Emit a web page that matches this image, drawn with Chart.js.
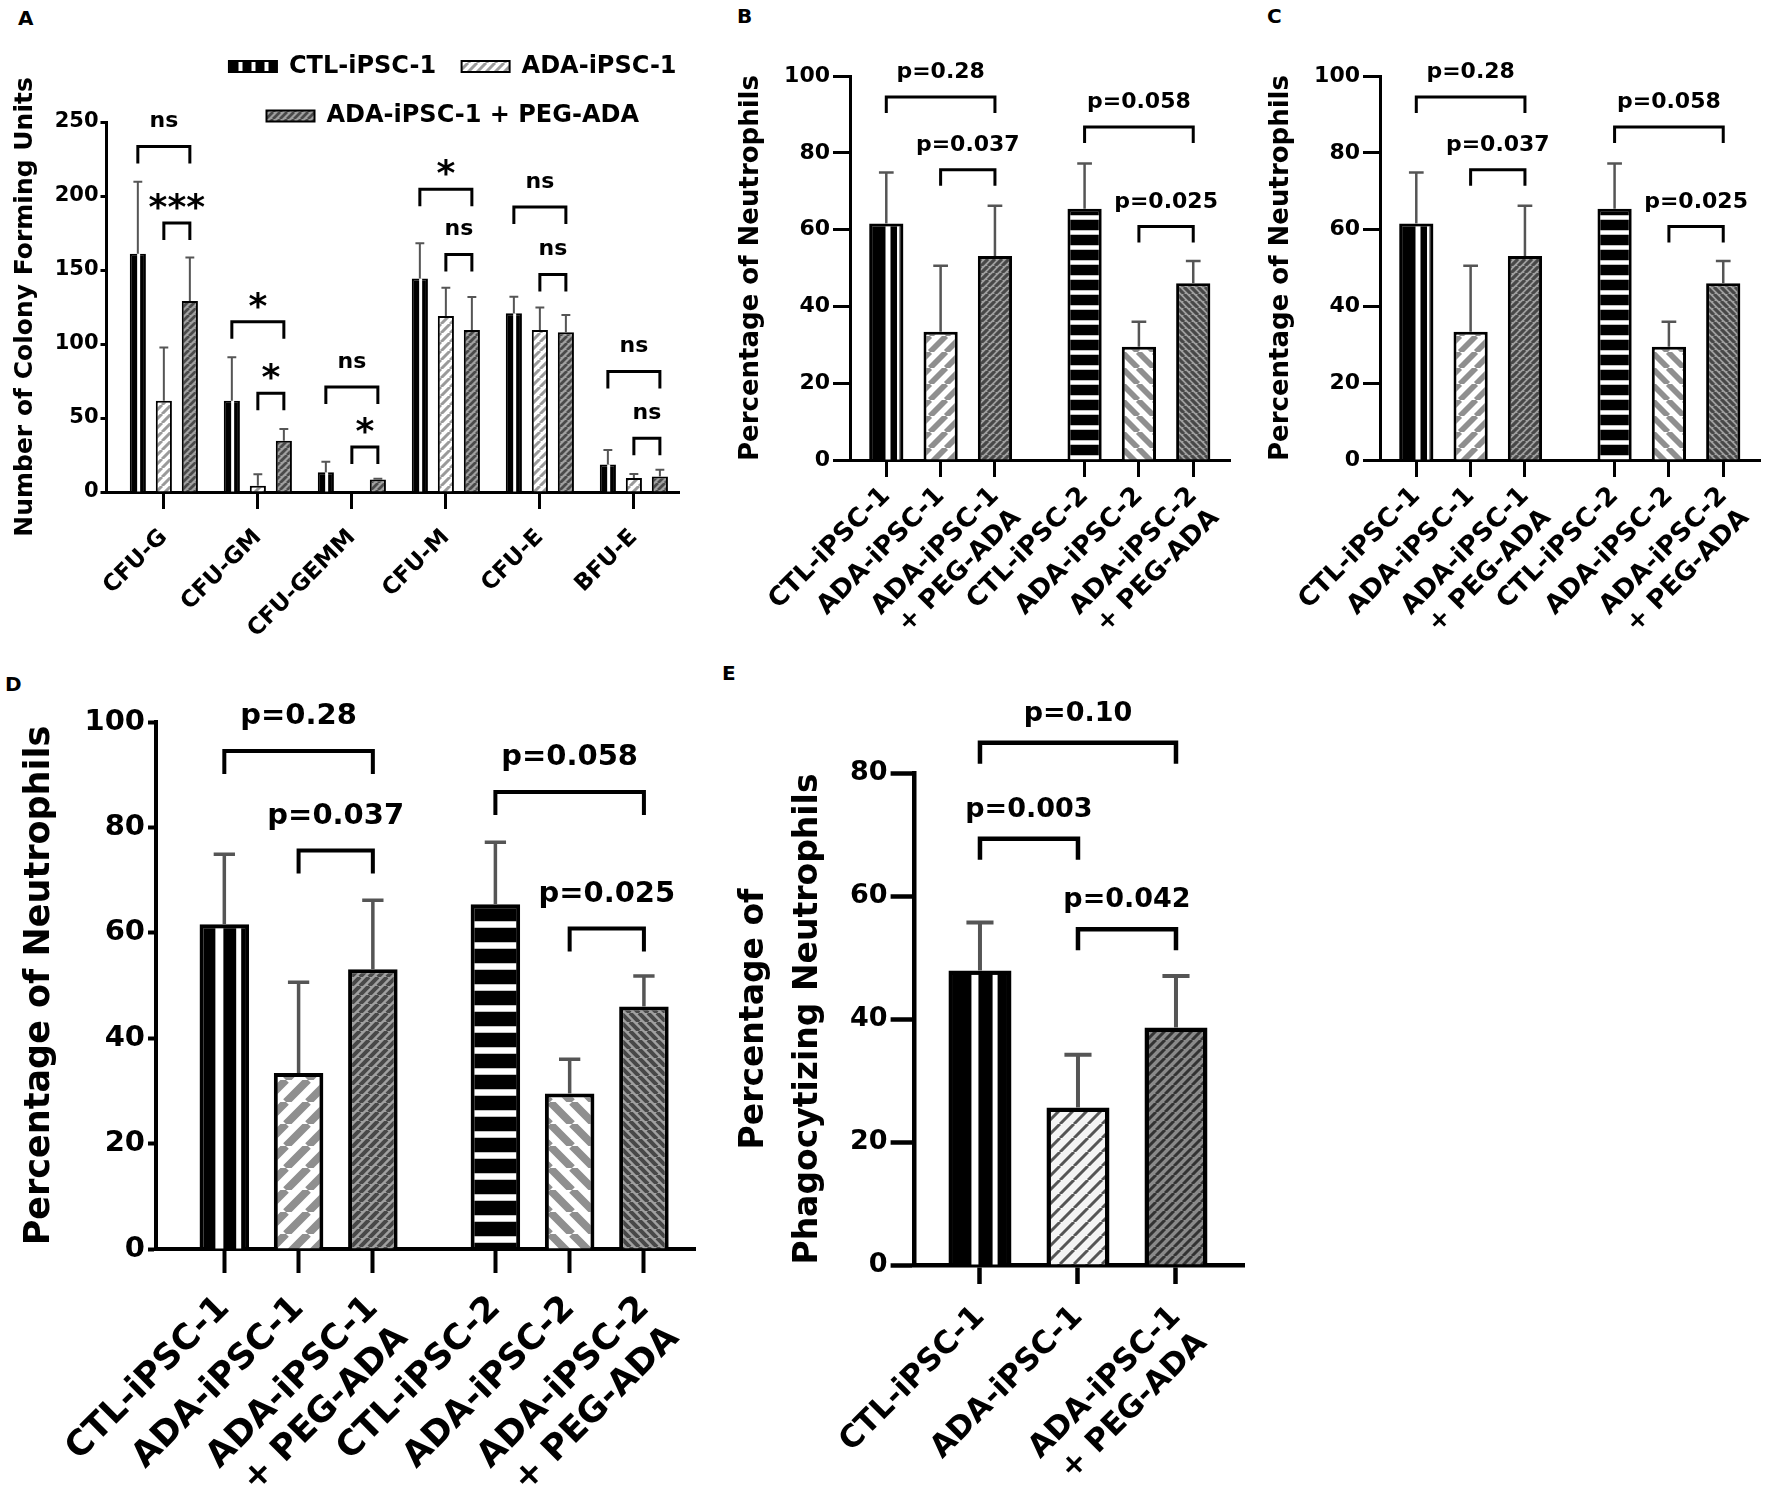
<!DOCTYPE html>
<html>
<head>
<meta charset="utf-8">
<script src="https://cdn.jsdelivr.net/npm/chart.js@4.4.1/dist/chart.umd.min.js"></script>
<style>
  body { margin: 0; width: 1772px; height: 1496px; background: #fff; position: relative; overflow: hidden; }
  canvas { position: absolute; }
  .tag { position: absolute; font: bold 20px 'DejaVu Sans'; line-height: 20px; color: #000; }
</style>
</head>
<body>
<div class="tag" style="left:18px;top:8px">A</div>
<div class="tag" style="left:737px;top:6px">B</div>
<div class="tag" style="left:1267px;top:6px">C</div>
<div class="tag" style="left:5px;top:674px">D</div>
<div class="tag" style="left:722px;top:663px">E</div>

<canvas id="chartA" width="720" height="660" style="left:0;top:0"></canvas>
<canvas id="chartB" width="520" height="660" style="left:722px;top:0"></canvas>
<canvas id="chartC" width="520" height="660" style="left:1252px;top:0"></canvas>
<canvas id="chartD" width="720" height="834" style="left:0;top:662px"></canvas>
<canvas id="chartE" width="540" height="834" style="left:724px;top:662px"></canvas>

<script>
// panel A: colony forming units
const cfuCategories = ['CFU-G', 'CFU-GM', 'CFU-GEMM', 'CFU-M', 'CFU-E', 'BFU-E'];
const cfuSeries = ['CTL-iPSC-1', 'ADA-iPSC-1', 'ADA-iPSC-1 + PEG-ADA'];
const cfuSlots = [0, 1, 2, 3, 4, 5];
const cfuCtl = [161, 61.6, 13.4, 144.3, 120.7, 18.5];
const cfuCtlErr = [48.7, 29.4, 7.1, 23.7, 11.3, 9.9];
const cfuAda = [61.6, 4.3, 0, 119, 109.4, 9.4];
const cfuAdaErr = [36.1, 7.7, 0, 19, 15.3, 2.8];
const cfuPeg = [129, 34.7, 8.5, 109.4, 108, 10.5];
const cfuPegErr = [29.5, 7.9, 0.5, 22.4, 11.6, 4.5];
const cfuTicks = [0, 50, 100, 150, 200, 250];
const cfuOuterY = [233.5, 115, 71, 204.5, 192.6, 81.5];
const cfuOuterText = ['ns', '*', 'ns', '*', 'ns', 'ns'];
const cfuInnerY = [181.8, 66.8, 30.4, 160.5, 147, 36.4];
const cfuInnerText = ['***', '*', '*', 'ns', 'ns', 'ns'];

// panels B, C, D: neutrophils
const neutLabels = ['CTL-iPSC-1', 'ADA-iPSC-1', ['ADA-iPSC-1', '+ PEG-ADA'], 'CTL-iPSC-2', 'ADA-iPSC-2', ['ADA-iPSC-2', '+ PEG-ADA']];
const neutSlots = [0, 1, 2, 3.65, 4.65, 5.65];
const neutValues = [61.6, 33.4, 53.1, 65.4, 29.5, 46.0];
const neutErrors = [13.3, 17.2, 13.1, 11.8, 6.5, 5.8];
const neutTicks = [0, 20, 40, 60, 80, 100];
const neutPairs = [[0, 2], [1, 2], [3, 5], [4, 5]];
const neutPHeights = [94.5, 75.6, 86.7, 60.8];
const neutPTexts = ['p=0.28', 'p=0.037', 'p=0.058', 'p=0.025'];

// panel E: phagocytizing neutrophils
const phagoLabels = ['CTL-iPSC-1', 'ADA-iPSC-1', ['ADA-iPSC-1', '+ PEG-ADA']];
const phagoSlots = [0, 1, 2];
const phagoValues = [47.9, 25.6, 38.6];
const phagoErrors = [7.8, 8.6, 8.4];
const phagoTicks = [0, 20, 40, 60, 80];
const phagoPairs = [[0, 2], [0, 1], [1, 2]];
const phagoPHeights = [84.9, 69.3, 54.6];
const phagoPTexts = ['p=0.10', 'p=0.003', 'p=0.042'];

const FONT = 'DejaVu Sans';
Chart.defaults.font.family = FONT;
Chart.defaults.color = '#000';
Chart.defaults.animation = false;

function hatch(bg, fg, size, lw, dir) {
  const c = document.createElement('canvas');
  c.width = c.height = size;
  const g = c.getContext('2d');
  g.fillStyle = bg;
  g.fillRect(0, 0, size, size);
  g.strokeStyle = fg;
  g.lineWidth = lw;
  g.beginPath();
  for (let k = -1; k <= 1; k++) {
    const o = k * size;
    if (dir === '/') { g.moveTo(o, size); g.lineTo(o + size, 0); }
    else { g.moveTo(o, 0); g.lineTo(o + size, size); }
  }
  g.stroke();
  return g.createPattern(c, 'repeat');
}

function bands(bg, fg, size, lw, vertical) {
  const c = document.createElement('canvas');
  c.width = c.height = size;
  const g = c.getContext('2d');
  g.fillStyle = bg;
  g.fillRect(0, 0, size, size);
  g.fillStyle = fg;
  if (vertical) g.fillRect((size - lw) / 2, 0, lw, size);
  else g.fillRect(0, (size - lw) / 2, size, lw);
  return g.createPattern(c, 'repeat');
}

const pts = (slots, vals) => slots.map((x, i) => ({x: x, y: vals[i]}));

// error bars, white stripes in the CTL-iPSC-1 bars, significance brackets
const extras = {
  id: 'extras',
  afterLayout(chart, args, o) {
    if (o.legendShift && chart.legend) {
      const l = chart.legend;
      l.left += o.legendShift[0]; l.right += o.legendShift[0];
      l.top += o.legendShift[1]; l.bottom += o.legendShift[1];
    }
  },
  afterDatasetsDraw(chart, args, o) {
    const ctx = chart.ctx;
    const ys = chart.scales.y;
    ctx.save();
    chart.data.datasets.forEach((ds, di) => {
      chart.getDatasetMeta(di).data.forEach((bar, i) => {
        const p = bar.getProps(['x', 'y', 'base', 'width'], true);
        const bw = ds.borderWidth || 0;
        const st = ds.vStripes;
        if (st && (!st.bars || st.bars.includes(i))) {
          ctx.fillStyle = '#fff';
          st.at.forEach((f, k) => {
            const sx = p.x - p.width / 2 + f * p.width - st.w[k] / 2;
            ctx.fillRect(sx, p.y + bw, st.w[k], p.base - p.y - bw);
          });
        }
        const e = ds.errors ? ds.errors[i] : 0;
        if (e > 0) {
          const top = ys.getPixelForValue(ds.data[i].y + e);
          const cap = p.width * o.capFrac / 2;
          ctx.strokeStyle = o.errColor;
          ctx.lineWidth = o.errWidth;
          ctx.beginPath();
          ctx.moveTo(p.x, p.y);
          ctx.lineTo(p.x, top);
          ctx.moveTo(p.x - cap, top);
          ctx.lineTo(p.x + cap, top);
          ctx.stroke();
        }
      });
    });
    (o.brackets || []).forEach(b => {
      const xa = chart.getDatasetMeta(b.a[0]).data[b.a[1]].x;
      const xb = chart.getDatasetMeta(b.b[0]).data[b.b[1]].x;
      const yb = ys.getPixelForValue(b.y);
      ctx.strokeStyle = '#000';
      ctx.lineWidth = o.brLine;
      ctx.beginPath();
      ctx.moveTo(xa, yb + o.brLeg);
      ctx.lineTo(xa, yb);
      ctx.lineTo(xb, yb);
      ctx.lineTo(xb, yb + o.brLeg);
      ctx.stroke();
      const star = /^\*+$/.test(b.text);
      ctx.fillStyle = '#000';
      ctx.textAlign = 'center';
      ctx.textBaseline = 'alphabetic';
      ctx.font = star ? o.starFont : o.brFont;
      ctx.fillText(b.text, (xa + xb) / 2, yb - (star ? o.starGap : o.brGap));
    });
    ctx.restore();
  }
};

function yAxis(ticks, s, title) {
  return {
    min: ticks[0],
    max: ticks[ticks.length - 1],
    ticks: {stepSize: ticks[1] - ticks[0], color: '#000', padding: s.tickPadY, font: {size: s.tickFontY, weight: 'bold'}},
    grid: {display: true, drawOnChartArea: false, drawTicks: true, tickLength: s.tickLenY, tickWidth: s.line, tickColor: '#000'},
    border: {display: true, color: '#000', width: s.line},
    title: {display: true, text: title, color: '#000', padding: {top: s.titlePad, bottom: 0},
            font: {size: s.titleSize, weight: 'bold', lineHeight: s.titleLH || 1.2}},
    afterFit: sc => { sc.width = s.yWidth; }
  };
}

function xAxis(slots, labels, s) {
  return {
    type: 'linear',
    min: s.xMin,
    max: s.xMax,
    offset: false,
    z: 1,
    afterBuildTicks: sc => { sc.ticks = slots.map(v => ({value: v})); },
    ticks: {autoSkip: false, minRotation: 45, maxRotation: 45, color: '#000', padding: s.tickPadX,
            font: {size: s.tickFontX, weight: 'bold'}, callback: (v, i) => labels[i]},
    grid: {display: true, offset: false, drawOnChartArea: false, drawTicks: true, tickLength: s.tickLenX, tickWidth: s.line, tickColor: '#000'},
    border: {display: true, color: '#000', width: s.line},
    afterFit: sc => { sc.height = s.xHeight; }
  };
}

// ---------- A ----------
const sA = {yWidth: 106.5, xHeight: 168, xMin: -0.61, xMax: 5.48, line: 3,
  tickLenY: 6, tickPadY: 2, tickFontY: 21, titleSize: 25, titlePad: 10,
  tickLenX: 17, tickPadX: 15, tickFontX: 23};

const cfuBrackets = [];
cfuCategories.forEach((c, i) => {
  cfuBrackets.push({a: [0, i], b: [2, i], y: cfuOuterY[i], text: cfuOuterText[i]});
  cfuBrackets.push({a: [1, i], b: [2, i], y: cfuInnerY[i], text: cfuInnerText[i]});
});

new Chart(document.getElementById('chartA'), {
  type: 'bar',
  data: {
    datasets: [
      {label: cfuSeries[0], data: pts(cfuSlots, cfuCtl), errors: cfuCtlErr, backgroundColor: '#000',
       vStripes: {at: [0.55], w: [3]}, legendFill: bands('#000', '#fff', 13, 4, true)},
      {label: cfuSeries[1], data: pts(cfuSlots, cfuAda), errors: cfuAdaErr, backgroundColor: hatch('#fff', '#9a9a9a', 9, 3, '/')},
      {label: cfuSeries[2], data: pts(cfuSlots, cfuPeg), errors: cfuPegErr, backgroundColor: hatch('#a0a0a0', '#4a4a4a', 7, 2.8, '/')}
    ]
  },
  options: {
    responsive: false,
    events: [],
    layout: {padding: {top: 13, right: 41, bottom: 0, left: 0}},
    datasets: {bar: {borderColor: '#000', borderWidth: 2, categoryPercentage: 0.83, barPercentage: 0.62}},
    scales: {x: xAxis(cfuSlots, cfuCategories, sA), y: yAxis(cfuTicks, sA, 'Number of Colony Forming Units')},
    plugins: {
      tooltip: {enabled: false},
      legend: {
        position: 'top',
        fullSize: false,
        labels: {
          boxWidth: 48, boxHeight: 11, padding: 25.5, color: '#000',
          font: {size: 24, weight: 'bold'},
          generateLabels: chart => {
            const items = Chart.defaults.plugins.legend.labels.generateLabels(chart);
            items.forEach(it => {
              const ds = chart.data.datasets[it.datasetIndex];
              if (ds.legendFill) it.fillStyle = ds.legendFill;
            });
            return items;
          }
        }
      },
      extras: {
        legendShift: [60, 16],
        errColor: '#555', errWidth: 2, capFrac: 0.55,
        brLine: 3, brLeg: 17, brGap: 19, brFont: 'bold 22px ' + FONT,
        starFont: 'bold 36px ' + FONT, starGap: 4,
        brackets: cfuBrackets
      }
    }
  },
  plugins: [extras]
});

// ---------- B, C, D ----------
function neutChart(id, s) {
  const colors = [
    '#000',
    hatch('#fff', '#8f8f8f', s.dPeriod, s.dPeriod * 0.36, '/'),
    hatch('#a0a0a0', '#484848', s.pPeriod, s.pPeriod * 0.45, '/'),
    bands('#000', '#fff', s.hPeriod, s.hLine, false),
    hatch('#fff', '#8f8f8f', s.dPeriod, s.dPeriod * 0.36, '\\'),
    hatch('#a0a0a0', '#484848', s.pPeriod, s.pPeriod * 0.45, '\\')
  ];
  return new Chart(document.getElementById(id), {
    type: 'bar',
    data: {
      datasets: [{
        label: 'Percentage of Neutrophils',
        data: pts(neutSlots, neutValues),
        errors: neutErrors,
        backgroundColor: colors,
        borderColor: '#000',
        borderWidth: s.border,
        categoryPercentage: 1,
        barPercentage: s.barPct,
        vStripes: {bars: [0], at: s.stripeAt, w: s.stripeW}
      }]
    },
    options: {
      responsive: false,
      events: [],
      layout: {padding: {top: s.padTop, right: s.padRight, bottom: 0, left: 0}},
      scales: {x: xAxis(neutSlots, neutLabels, s), y: yAxis(neutTicks, s, 'Percentage of Neutrophils')},
      plugins: {
        legend: {display: false},
        tooltip: {enabled: false},
        extras: {
          errColor: '#555', errWidth: s.errW, capFrac: 0.43,
          brLine: s.line, brLeg: s.brLeg, brGap: s.pGap, brFont: 'bold ' + s.pFont + 'px ' + FONT,
          brackets: neutPairs.map((pr, i) => ({a: [0, pr[0]], b: [0, pr[1]], y: neutPHeights[i], text: neutPTexts[i]}))
        }
      }
    },
    plugins: [extras]
  });
}

const sB = {yWidth: 128, xHeight: 200, padTop: 76, padRight: 6.5, xMin: -0.668, xMax: 6.34, line: 3,
  tickLenY: 17, tickPadY: 3, tickFontY: 22, titleSize: 26, titlePad: 14,
  tickLenX: 17, tickPadX: 4, tickFontX: 26, barPct: 0.63, border: 3,
  pFont: 22, pGap: 19, brLeg: 16, errW: 2.5,
  stripeAt: [0.55, 0.85], stripeW: [5, 2.5], dPeriod: 16, pPeriod: 7, hPeriod: 15, hLine: 4.5};
neutChart('chartB', sB);
neutChart('chartC', sB);

neutChart('chartD', {yWidth: 156, xHeight: 247, padTop: 60, padRight: 17.5, xMin: -0.92, xMax: 6.35, line: 4,
  tickLenY: 8, tickPadY: 3, tickFontY: 29, titleSize: 35, titlePad: 19,
  tickLenX: 24, tickPadX: 15, tickFontX: 35, barPct: 0.667, border: 4,
  pFont: 29, pGap: 27, brLeg: 23, errW: 3.5,
  stripeAt: [0.4, 0.79], stripeW: [8, 5], dPeriod: 22, pPeriod: 9, hPeriod: 21, hLine: 6.5});

// ---------- E ----------
const sE = {yWidth: 190.6, xHeight: 231, xMin: -0.667, xMax: 2.694, line: 4.5,
  tickLenY: 24, tickPadY: 3, tickFontY: 27, titleSize: 33, titleLH: 1.636, titlePad: 3,
  tickLenX: 19, tickPadX: 15, tickFontX: 31};

new Chart(document.getElementById('chartE'), {
  type: 'bar',
  data: {
    datasets: [{
      label: 'Percentage of Phagocytizing Neutrophils',
      data: pts(phagoSlots, phagoValues),
      errors: phagoErrors,
      backgroundColor: ['#000', hatch('#f4f4f4', '#555', 14, 3, '/'), hatch('#8a8a8a', '#333', 9, 3, '/')],
      borderColor: '#000',
      borderWidth: 4.5,
      categoryPercentage: 1,
      barPercentage: 0.643,
      vStripes: {bars: [0], at: [0.42, 0.74], w: [7, 5]}
    }]
  },
  options: {
    responsive: false,
    events: [],
    layout: {padding: {top: 111, right: 20, bottom: 0, left: 0}},
    scales: {x: xAxis(phagoSlots, phagoLabels, sE), y: yAxis(phagoTicks, sE, ['Percentage of', 'Phagocytizing Neutrophils'])},
    plugins: {
      legend: {display: false},
      tooltip: {enabled: false},
      extras: {
        errColor: '#555', errWidth: 4, capFrac: 0.43,
        brLine: 4.5, brLeg: 21, brGap: 22, brFont: 'bold 27px ' + FONT,
        brackets: phagoPairs.map((pr, i) => ({a: [0, pr[0]], b: [0, pr[1]], y: phagoPHeights[i], text: phagoPTexts[i]}))
      }
    }
  },
  plugins: [extras]
});
</script>
</body>
</html>
